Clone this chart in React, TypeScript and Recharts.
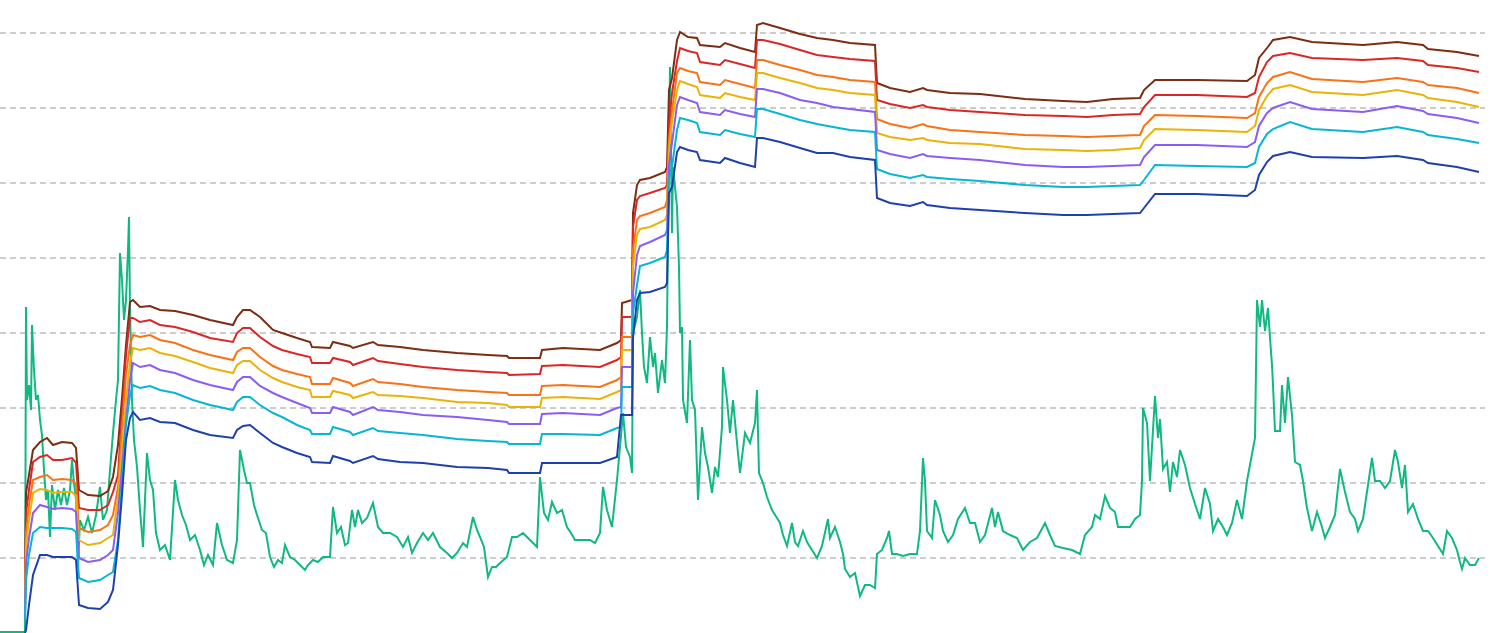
import { LineChart, Line, XAxis, YAxis, CartesianGrid } from 'recharts';

// band sample positions (shared by all seven bands)
const bandX = [
  25, 26, 29, 33, 40, 47, 53, 62, 72, 76,
  79, 88, 100, 108, 113, 118, 122, 126, 130, 133,
  140, 150, 160, 175, 193, 210, 233, 237, 243, 250,
  260, 273, 282, 297, 310, 312, 330, 333, 350, 353,
  373, 378, 400, 423, 457, 488, 507, 509, 540, 542,
  563, 600, 617, 621, 622, 632, 633, 637, 640, 650,
  665, 667, 669, 672, 677, 680, 688, 697, 700, 720,
  725, 740, 755, 757, 763, 780, 800, 817, 833, 850,
  875, 877, 890, 910, 923, 927, 950, 980, 1025, 1063,
  1087, 1113, 1140, 1144, 1155, 1197, 1247, 1255, 1259, 1267,
  1273, 1290, 1312, 1363, 1397, 1423, 1428, 1457, 1479,
];

const brownBand = [
  33, 140, 158, 183, 191, 195, 188, 191, 190, 185,
  143, 138, 137, 142, 156, 188, 235, 288, 331, 333,
  326, 327, 323, 322, 318, 313, 308, 316, 323, 323,
  316, 303, 300, 295, 291, 286, 285, 291, 287, 285,
  291, 288, 286, 283, 280, 278, 277, 275, 275, 283,
  285, 283, 290, 293, 330, 333, 420, 448, 453, 455,
  461, 466, 543, 555, 593, 601, 596, 595, 588, 586,
  590, 585, 581, 608, 610, 605, 599, 595, 593, 590,
  588, 550, 545, 541, 545, 543, 540, 539, 534, 532,
  531, 534, 535, 543, 553, 553, 552, 558, 575, 585,
  593, 596, 591, 588, 591, 588, 584, 581, 577,
];

const redBand = [
  28, 120, 143, 171, 176, 178, 173, 173, 175, 170,
  125, 123, 123, 128, 141, 158, 220, 278, 315, 315,
  311, 313, 308, 306, 301, 295, 291, 300, 305, 305,
  296, 287, 283, 279, 276, 270, 270, 275, 271, 268,
  275, 272, 269, 266, 263, 261, 260, 258, 259, 267,
  268, 266, 273, 276, 316, 316, 406, 433, 437, 440,
  445, 448, 508, 540, 572, 585, 582, 580, 571, 568,
  573, 569, 565, 593, 593, 589, 583, 578, 576, 574,
  572, 533, 529, 525, 528, 526, 523, 521, 518, 517,
  516, 518, 519, 526, 538, 538, 536, 540, 556, 571,
  577, 580, 575, 573, 575, 572, 568, 565, 561,
];

const orangeBand = [
  23, 100, 128, 153, 156, 158, 153, 154, 153, 149,
  105, 101, 103, 108, 118, 146, 205, 258, 288, 298,
  296, 298, 293, 290, 283, 278, 273, 281, 285, 285,
  276, 267, 263, 259, 256, 249, 249, 255, 250, 247,
  254, 251, 249, 246, 243, 241, 240, 238, 238, 247,
  248, 246, 253, 256, 296, 296, 383, 413, 417, 420,
  426, 433, 493, 522, 560, 565, 562, 560, 551, 548,
  553, 549, 545, 573, 573, 568, 563, 558, 556, 553,
  551, 514, 509, 505, 509, 507, 503, 501, 498, 497,
  496, 497, 498, 507, 518, 517, 515, 520, 536, 550,
  556, 561, 554, 551, 555, 551, 548, 545, 540,
];

const yellowBand = [
  21, 86, 113, 140, 144, 143, 140, 141, 141, 137,
  93, 88, 90, 95, 98, 136, 184, 233, 270, 285,
  283, 285, 280, 277, 271, 265, 260, 268, 272, 272,
  263, 255, 251, 246, 243, 236, 236, 242, 238, 235,
  241, 238, 237, 235, 231, 230, 228, 226, 226, 235,
  236, 234, 241, 243, 283, 283, 366, 398, 404, 406,
  413, 418, 483, 511, 543, 552, 549, 546, 538, 535,
  540, 536, 533, 560, 560, 555, 550, 545, 543, 540,
  538, 500, 496, 493, 495, 493, 490, 489, 484, 483,
  482, 483, 485, 493, 504, 503, 501, 507, 523, 537,
  544, 548, 541, 538, 543, 538, 535, 531, 526,
];

const purpleBand = [
  18, 70, 95, 120, 128, 126, 124, 125, 124, 121,
  75, 71, 73, 78, 83, 120, 165, 213, 253, 270,
  266, 268, 263, 260, 253, 248, 243, 251, 256, 256,
  247, 240, 236, 230, 225, 220, 220, 226, 221, 218,
  226, 223, 221, 218, 216, 213, 211, 209, 209, 219,
  220, 218, 225, 226, 266, 266, 340, 378, 387, 391,
  398, 403, 468, 490, 528, 536, 533, 530, 521, 518,
  523, 519, 516, 544, 544, 540, 533, 530, 526, 524,
  521, 483, 479, 475, 479, 477, 475, 473, 468, 466,
  466, 467, 468, 476, 488, 488, 486, 491, 507, 520,
  525, 531, 524, 521, 527, 522, 519, 515, 510,
];

const cyanBand = [
  13, 53, 78, 100, 106, 105, 105, 105, 104, 101,
  55, 51, 53, 58, 61, 93, 150, 208, 238, 248,
  245, 247, 243, 240, 233, 228, 223, 231, 236, 236,
  228, 220, 216, 208, 203, 199, 199, 206, 201, 198,
  205, 202, 200, 198, 194, 192, 191, 189, 189, 199,
  199, 198, 205, 206, 246, 246, 320, 348, 367, 370,
  376, 383, 455, 466, 503, 515, 513, 510, 501, 498,
  503, 499, 496, 524, 524, 519, 513, 509, 506, 503,
  501, 464, 459, 455, 458, 456, 454, 452, 448, 446,
  446, 447, 448, 453, 468, 467, 466, 470, 486, 499,
  504, 511, 504, 501, 506, 501, 498, 494, 490,
];

const blueBand = [
  0, 3, 28, 58, 78, 78, 76, 76, 76, 73,
  28, 25, 24, 31, 43, 88, 138, 193, 215, 221,
  213, 215, 211, 210, 203, 198, 195, 203, 207, 208,
  200, 190, 186, 180, 176, 171, 170, 177, 172, 170,
  177, 174, 171, 170, 166, 165, 163, 160, 160, 170,
  170, 170, 176, 218, 218, 218, 295, 333, 340, 341,
  346, 350, 440, 446, 481, 486, 483, 481, 473, 470,
  475, 470, 466, 495, 495, 491, 485, 480, 480, 476,
  473, 435, 430, 427, 431, 428, 425, 423, 420, 418,
  418, 419, 420, 425, 439, 439, 437, 443, 458, 471,
  477, 481, 476, 475, 477, 473, 470, 466, 461,
];

// price series
const priceX = [
  0, 25, 26, 27, 29, 31, 32, 34, 36, 38, 40, 42, 44, 46, 48, 50, 52, 55, 58, 61,
  64, 67, 70, 72, 74, 76, 78, 80, 84, 88, 92, 96, 100, 103, 107, 110, 113, 116, 118, 120,
  122, 124, 126, 128, 129, 130, 132, 134, 137, 140, 143, 145, 147, 150, 153, 156, 160, 165, 170, 175,
  178, 182, 186, 190, 195, 200, 204, 208, 213, 217, 222, 227, 233, 237, 240, 244, 247, 250, 254, 257,
  262, 266, 270, 274, 278, 282, 285, 290, 295, 300, 305, 308, 313, 318, 323, 330, 333, 337, 341, 345,
  348, 352, 355, 358, 362, 367, 373, 378, 383, 390, 397, 403, 408, 412, 417, 423, 428, 433, 440, 447,
  452, 457, 463, 467, 473, 477, 480, 484, 488, 492, 496, 500, 507, 512, 517, 523, 530, 537, 540, 544,
  548, 552, 557, 562, 567, 571, 575, 583, 590, 595, 600, 603, 607, 612, 617, 620, 623, 626, 630, 632,
  633, 637, 640, 642, 644, 647, 650, 653, 655, 658, 662, 665, 667, 668, 670, 672, 673, 677, 679, 680,
  682, 683, 687, 690, 692, 695, 698, 702, 705, 708, 712, 715, 718, 722, 723, 727, 730, 733, 737, 740,
  745, 750, 755, 757, 759, 763, 767, 772, 777, 780, 783, 787, 792, 795, 798, 803, 807, 812, 817, 822,
  828, 830, 835, 840, 843, 845, 850, 855, 860, 865, 870, 875, 877, 882, 887, 889, 892, 897, 903, 910,
  917, 920, 923, 925, 927, 932, 935, 940, 943, 948, 953, 958, 965, 970, 975, 980, 985, 992, 995, 998,
  1003, 1010, 1017, 1023, 1030, 1037, 1045, 1050, 1055, 1063, 1072, 1080, 1085, 1092, 1095, 1100, 1105, 1110, 1115, 1118,
  1123, 1130, 1135, 1140, 1142, 1143, 1147, 1150, 1155, 1158, 1160, 1163, 1167, 1170, 1173, 1177, 1180, 1185, 1190, 1195,
  1200, 1205, 1210, 1213, 1218, 1223, 1227, 1232, 1237, 1242, 1247, 1252, 1255, 1257, 1260, 1262, 1265, 1268, 1270, 1272,
  1273, 1275, 1280, 1282, 1285, 1288, 1292, 1295, 1300, 1303, 1307, 1312, 1317, 1322, 1325, 1330, 1335, 1340, 1345, 1350,
  1355, 1358, 1363, 1368, 1372, 1375, 1380, 1385, 1390, 1395, 1398, 1402, 1405, 1408, 1413, 1418, 1423, 1428, 1433, 1438,
  1443, 1447, 1452, 1457, 1460, 1462, 1465, 1470, 1475, 1479,
];

const priceV = [
  1, 1, 326, 233, 248, 223, 308, 263, 233, 238, 213, 198, 163, 133, 143, 96, 148, 123, 143, 128,
  145, 128, 143, 173, 150, 133, 66, 113, 103, 116, 100, 118, 146, 113, 123, 163, 200, 233, 253, 380,
  353, 313, 333, 383, 416, 323, 233, 193, 166, 123, 86, 133, 180, 153, 143, 100, 83, 88, 73, 153,
  133, 118, 108, 93, 98, 83, 68, 78, 68, 110, 88, 73, 70, 93, 183, 163, 150, 150, 128, 118,
  103, 100, 76, 66, 73, 70, 88, 76, 73, 68, 63, 68, 73, 71, 76, 76, 126, 100, 106, 88,
  90, 123, 106, 123, 110, 115, 130, 106, 100, 100, 96, 86, 96, 80, 90, 100, 93, 100, 86, 80,
  75, 80, 90, 86, 116, 103, 96, 86, 56, 66, 66, 70, 76, 96, 96, 100, 93, 86, 156, 120,
  113, 131, 120, 123, 106, 100, 93, 93, 93, 90, 100, 146, 123, 106, 153, 186, 220, 186, 176, 160,
  300, 316, 343, 300, 266, 250, 296, 266, 280, 240, 273, 250, 306, 400, 566, 400, 466, 426, 366, 300,
  306, 233, 210, 293, 233, 223, 133, 206, 180, 166, 140, 166, 156, 206, 266, 233, 200, 233, 190, 160,
  200, 190, 210, 243, 160, 150, 136, 123, 115, 110, 98, 87, 110, 91, 87, 102, 91, 83, 75, 87,
  114, 95, 106, 91, 79, 64, 56, 60, 37, 48, 48, 45, 79, 83, 95, 102, 79, 79, 77, 79,
  79, 102, 175, 152, 102, 95, 133, 118, 102, 91, 98, 114, 125, 110, 110, 91, 98, 125, 106, 121,
  102, 98, 95, 83, 91, 95, 110, 98, 87, 85, 83, 79, 98, 106, 118, 114, 137, 125, 121, 106,
  106, 106, 114, 118, 152, 225, 210, 152, 237, 195, 214, 164, 171, 141, 171, 156, 183, 168, 145, 129,
  114, 145, 129, 102, 114, 106, 98, 110, 133, 114, 152, 179, 195, 333, 306, 333, 302, 325, 295, 268,
  248, 202, 202, 248, 210, 256, 218, 171, 168, 152, 125, 102, 121, 106, 95, 106, 118, 164, 141, 121,
  114, 102, 114, 148, 175, 152, 152, 145, 152, 183, 171, 145, 168, 121, 129, 114, 102, 102, 95, 87,
  79, 102, 95, 83, 71, 64, 75, 68, 68, 75,
];

const gridTicks = [0, 75, 150, 225, 300, 375, 450, 525, 600];

const bandRows = bandX.map((x, i) => ({
  x,
  brown: brownBand[i],
  red: redBand[i],
  orange: orangeBand[i],
  yellow: yellowBand[i],
  purple: purpleBand[i],
  cyan: cyanBand[i],
  blue: blueBand[i],
}));

const priceRows = priceX.map((x, i) => ({ x, price: priceV[i] }));

const bandLines = [
  { key: 'brown', color: '#7c2d12' },
  { key: 'red', color: '#dc2626' },
  { key: 'orange', color: '#f97316' },
  { key: 'yellow', color: '#eab308' },
  { key: 'purple', color: '#8b5cf6' },
  { key: 'cyan', color: '#06b6d4' },
  { key: 'blue', color: '#1e40af' },
];

export default function App() {
  // plot reaches 20px above the window so the top edge of the grid stays out of view
  return (
    <div style={{ position: 'absolute', left: 0, top: -20, background: '#fff' }}>
      <LineChart width={1490} height={653} margin={{ top: 0, right: 5, bottom: 0, left: 0 }}>
        <CartesianGrid
          vertical={false}
          horizontalValues={gridTicks}
          stroke="#9a9a9a"
          strokeDasharray="6 4"
        />
        <XAxis type="number" dataKey="x" domain={[0, 1485]} hide allowDataOverflow />
        <YAxis type="number" domain={[0, 653]} ticks={gridTicks} hide allowDataOverflow />
        <Line
          data={priceRows}
          dataKey="price"
          type="linear"
          stroke="#10b981"
          strokeWidth={2}
          dot={false}
          activeDot={false}
          isAnimationActive={false}
        />
        {bandLines.map((b) => (
          <Line
            key={b.key}
            data={bandRows}
            dataKey={b.key}
            type="linear"
            stroke={b.color}
            strokeWidth={2}
            dot={false}
            activeDot={false}
            isAnimationActive={false}
          />
        ))}
      </LineChart>
    </div>
  );
}
